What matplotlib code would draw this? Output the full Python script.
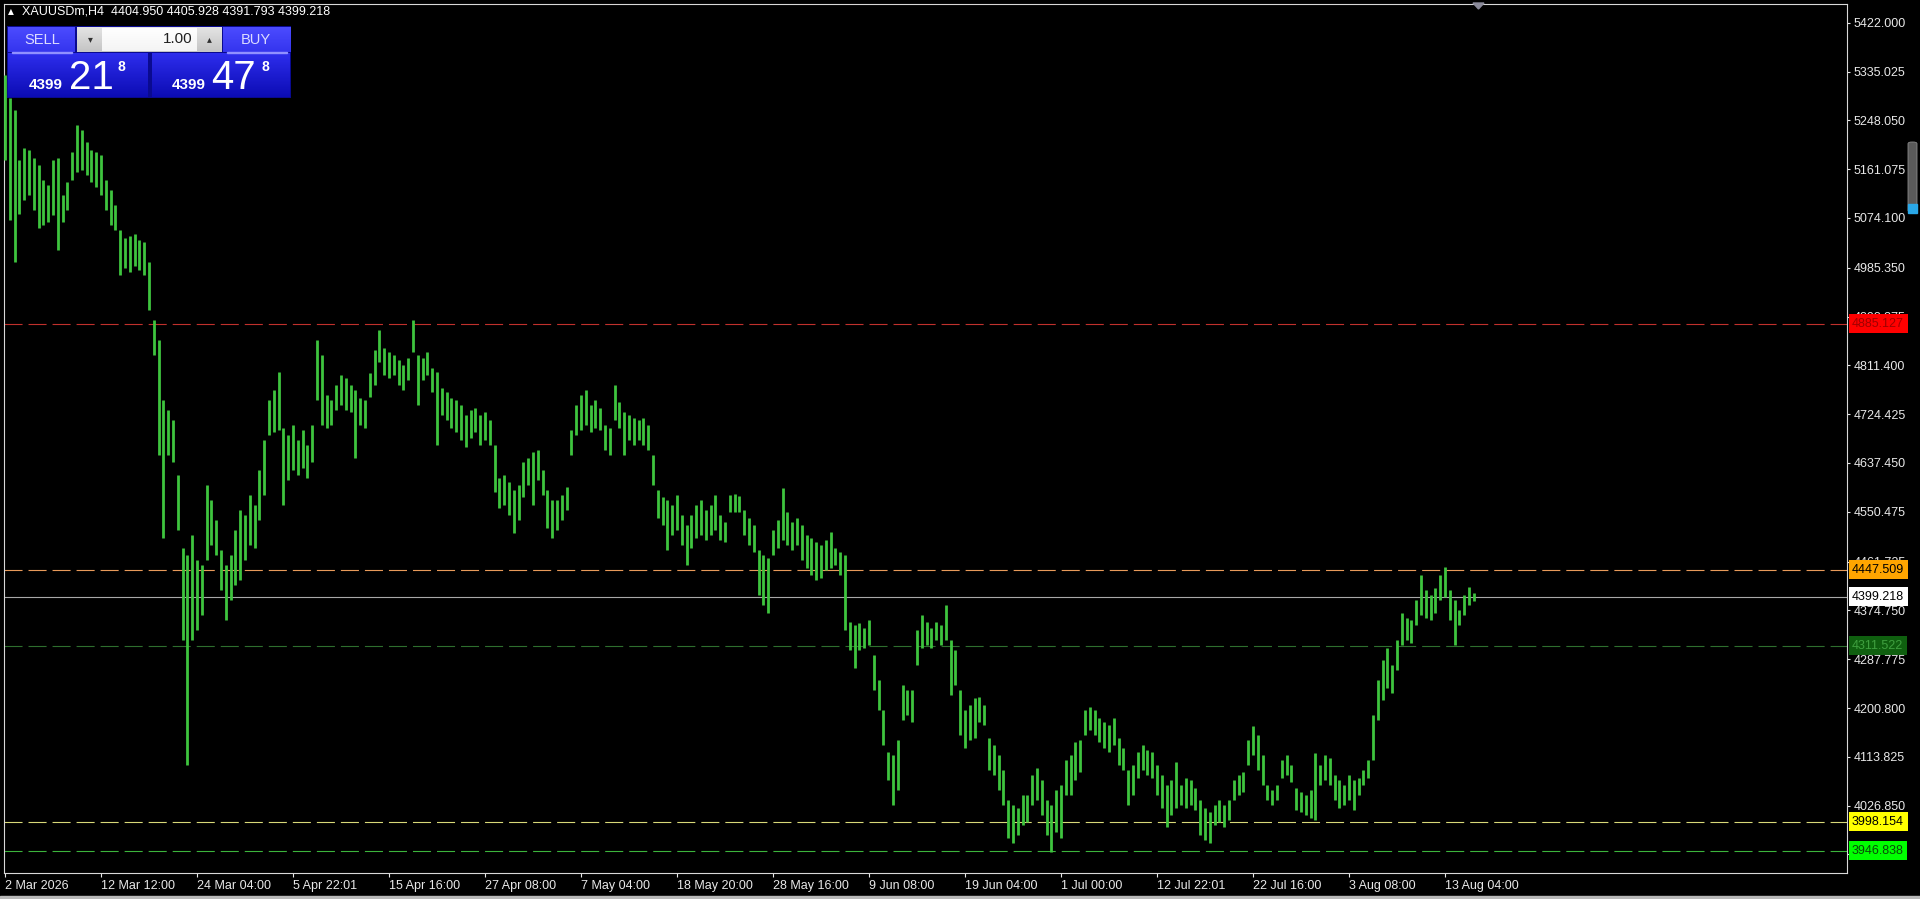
import numpy as np
import matplotlib
matplotlib.use('Agg')
import matplotlib.pyplot as plt
from matplotlib.patches import Rectangle, Polygon, FancyBboxPatch
from matplotlib.colors import LinearSegmentedColormap

plt.rcParams['font.family'] = ['Liberation Sans', 'DejaVu Sans']
plt.rcParams['lines.scale_dashes'] = False

# H4 bars, every bar = one high/low pair
bar_high = [
    5329, 5288, 5266, 5177, 5199, 5195, 5181, 5168, 5142, 5133,
    5177, 5181, 5115, 5138, 5191, 5240, 5231, 5209, 5195, 5191,
    5186, 5142, 5124, 5097, 5053, 5038, 5042, 5045, 5035, 5031,
    4996, 4892, 4857, 4750, 4732, 4714, 4616, 4486, 4473, 4509,
    4465, 4456, 4598, 4572, 4536, 4482, 4456, 4473, 4518, 4554,
    4545, 4580, 4563, 4625, 4678, 4750, 4768, 4800, 4700, 4688,
    4705, 4678, 4696, 4670, 4705, 4857, 4830, 4759, 4750, 4777,
    4794, 4789, 4777, 4768, 4753, 4750, 4798, 4839, 4874, 4842,
    4835, 4830, 4821, 4812, 4824, 4892, 4830, 4824, 4835, 4806,
    4800, 4771, 4764, 4753, 4750, 4741, 4723, 4732, 4736, 4723,
    4728, 4714, 4670, 4611, 4616, 4603, 4589, 4598, 4639, 4646,
    4657, 4661, 4625, 4589, 4572, 4572, 4580, 4594, 4696, 4741,
    4759, 4768, 4741, 4750, 4736, 4705, 4700, 4777, 4746, 4728,
    4723, 4718, 4714, 4718, 4705, 4652, 4589, 4576, 4572, 4563,
    4580, 4545, 4527, 4545, 4563, 4572, 4554, 4563, 4580, 4545,
    4532, 4580, 4582, 4579, 4554, 4540, 4527, 4482, 4473, 4468,
    4518, 4536, 4593, 4550, 4532, 4540, 4527, 4509, 4504, 4496,
    4491, 4500, 4514, 4486, 4479, 4473, 4354, 4349, 4352, 4343,
    4358, 4295, 4251, 4197, 4122, 4117, 4144, 4242, 4233, 4233,
    4340, 4366, 4354, 4343, 4354, 4349, 4384, 4322, 4304, 4233,
    4197, 4206, 4219, 4220, 4206, 4147, 4135, 4117, 4091, 4037,
    4028, 4023, 4046, 4046, 4082, 4094, 4073, 4037, 4028, 4055,
    4064, 4108, 4117, 4140, 4144, 4197, 4203, 4197, 4183, 4176,
    4171, 4183, 4147, 4130, 4091, 4099, 4122, 4135, 4126, 4122,
    4099, 4082, 4064, 4073, 4104, 4064, 4076, 4073, 4059, 4037,
    4023, 4015, 4028, 4037, 4028, 4037, 4073, 4082, 4087, 4144,
    4168, 4153, 4117, 4064, 4055, 4064, 4108, 4117, 4099, 4059,
    4051, 4046, 4055, 4121, 4099, 4117, 4112, 4082, 4073, 4064,
    4082, 4073, 4076, 4091, 4108, 4188, 4251, 4286, 4308, 4277,
    4322, 4370, 4361, 4358, 4393, 4438, 4411, 4402, 4415, 4438,
    4452, 4411, 4393, 4375, 4402, 4416, 4406,
]
bar_low = [
    5177, 5070, 4996, 5081, 5106, 5115, 5088, 5056, 5061, 5066,
    5079, 5017, 5066, 5088, 5142, 5156, 5159, 5150, 5138, 5129,
    5115, 5088, 5061, 5053, 4972, 4985, 4977, 4988, 4981, 4972,
    4910, 4830, 4652, 4504, 4652, 4639, 4518, 4322, 4099, 4322,
    4340, 4366, 4465, 4491, 4473, 4411, 4358, 4393, 4420, 4429,
    4465, 4491, 4486, 4536, 4580, 4688, 4693, 4696, 4563, 4607,
    4625, 4616, 4629, 4611, 4639, 4750, 4705, 4700, 4705, 4732,
    4741, 4732, 4728, 4646, 4705, 4700, 4755, 4777, 4817, 4794,
    4789, 4794, 4777, 4768, 4785, 4835, 4741, 4785, 4794, 4764,
    4670, 4723, 4714, 4700, 4693, 4678, 4666, 4682, 4693, 4670,
    4678, 4670, 4586, 4557, 4563, 4545, 4513, 4536, 4576, 4598,
    4563, 4607, 4580, 4522, 4504, 4518, 4536, 4554, 4652, 4688,
    4696, 4705, 4693, 4700, 4696, 4661, 4652, 4714, 4700, 4652,
    4678, 4670, 4678, 4670, 4661, 4598, 4540, 4527, 4482, 4509,
    4518, 4491, 4456, 4486, 4504, 4509, 4500, 4509, 4518, 4500,
    4496, 4550, 4550, 4550, 4509, 4491, 4479, 4402, 4384, 4371,
    4473, 4486, 4500, 4491, 4482, 4491, 4465, 4451, 4438, 4429,
    4433, 4447, 4451, 4456, 4438, 4340, 4304, 4272, 4304, 4307,
    4313, 4233, 4197, 4135, 4073, 4028, 4055, 4180, 4188, 4176,
    4277, 4307, 4313, 4307, 4322, 4313, 4322, 4224, 4242, 4153,
    4130, 4144, 4148, 4176, 4171, 4091, 4082, 4055, 4028, 3969,
    3960, 3975, 3992, 3997, 4028, 4037, 4010, 3975, 3944, 3980,
    3969, 4046, 4046, 4073, 4087, 4153, 4162, 4153, 4140, 4130,
    4122, 4135, 4099, 4091, 4028, 4046, 4076, 4091, 4082, 4076,
    4046, 4023, 3988, 4010, 4023, 4028, 4023, 4028, 4019, 3975,
    3966, 3960, 3992, 3997, 3988, 4001, 4037, 4046, 4051, 4099,
    4117, 4091, 4064, 4037, 4028, 4037, 4076, 4082, 4069, 4019,
    4015, 4010, 4005, 4001, 4064, 4073, 4064, 4037, 4023, 4028,
    4037, 4019, 4046, 4064, 4076, 4108, 4180, 4215, 4237, 4228,
    4269, 4313, 4322, 4316, 4349, 4366, 4361, 4358, 4370, 4393,
    4399, 4358, 4313, 4349, 4366, 4384, 4392,
]

date_labels = ['2 Mar 2026', '12 Mar 12:00', '24 Mar 04:00', '5 Apr 22:01', '15 Apr 16:00',
               '27 Apr 08:00', '7 May 04:00', '18 May 20:00', '28 May 16:00', '9 Jun 08:00',
               '19 Jun 04:00', '1 Jul 00:00', '12 Jul 22:01', '22 Jul 16:00', '3 Aug 08:00',
               '13 Aug 04:00']
date_pos = [0, 20, 40, 60, 80, 100, 120, 140, 160, 180, 200, 220, 240, 260, 280, 300]

price_ticks = [5422.000, 5335.025, 5248.050, 5161.075, 5074.100, 4985.350, 4898.375,
               4811.400, 4724.425, 4637.450, 4550.475, 4461.725, 4374.750, 4287.775,
               4200.800, 4113.825, 4026.850, 3939.875]

# horizontal levels: price, line colour, label bg, label text colour, dashed?
levels = [
    (4885.127, '#c0302c', '#ff0000', '#a00000', True),
    (4447.509, '#e89a5a', '#ffa500', '#000000', True),
    (4399.218, '#a8a8a8', '#ffffff', '#000000', False),
    (4311.522, '#2e6e2e', '#0f5f0f', '#3f9f3f', True),
    (3998.154, '#d8d878', '#ffff00', '#000000', True),
    (3946.838, '#3cb43c', '#00ff00', '#0a4a0a', True),
]

W, H = 1920, 899
fig = plt.figure(figsize=(W / 100, H / 100), dpi=100, facecolor='black')


def px_box(x0, y0, x1, y1):
    return [x0 / W, 1 - y1 / H, (x1 - x0) / W, (y1 - y0) / H]


ax = fig.add_axes(px_box(4, 4, 1847, 873))
ax.set_facecolor('black')
for s in ax.spines.values():
    s.set_color('#d8d8d8')
    s.set_linewidth(0.8)

x = np.arange(len(bar_high))
ax.vlines(x, bar_low, bar_high, color='#3ec43e', linewidth=2.0, zorder=3)

ax.set_xlim(-0.21, 383.75)
ax.set_ylim(3906.9, 5455.3)

for p, lc, bg, tc, dashed in levels:
    if dashed:
        ax.axhline(p, color=lc, linewidth=0.8, dashes=(13, 4.3), zorder=2)
    else:
        ax.axhline(p, color=lc, linewidth=0.8, zorder=2)

ax.yaxis.tick_right()
ax.set_yticks(price_ticks)
ax.set_yticklabels(['%.3f' % v for v in price_ticks])
ax.tick_params(axis='y', colors='#e8e8e8', length=2.5, width=0.8, pad=2, labelsize=9)

ax.set_xticks(date_pos)
ax.set_xticklabels(date_labels, ha='left')
ax.tick_params(axis='x', colors='#e8e8e8', length=3, width=0.8, pad=2, labelsize=9)

for p, lc, bg, tc, dashed in levels:
    ax.annotate('%.3f' % p, xy=(1, p), xycoords=('axes fraction', 'data'),
                xytext=(5, 0), textcoords='offset pixels', ha='left', va='center',
                fontsize=9, color=tc, annotation_clip=False, zorder=10,
                bbox=dict(boxstyle='square,pad=0.28', fc=bg, ec='none'))

# header
fig.text(8 / W, 1 - 12 / H, '\u25b2', color='white', fontsize=5.5, va='center',
         family='DejaVu Sans')
fig.text(22 / W, 1 - 12 / H, 'XAUUSDm,H4  4404.950 4405.928 4391.793 4399.218',
         color='white', fontsize=9, va='center')

# one-click trading panel
grad = np.linspace(0, 1, 64).reshape(-1, 1)


def grad_box(x0, y0, x1, y1, c_top, c_bot):
    a = fig.add_axes(px_box(x0, y0, x1, y1))
    cm = LinearSegmentedColormap.from_list('g', [c_top, c_bot])
    a.imshow(grad, aspect='auto', cmap=cm, extent=[0, 1, 0, 1])
    a.axis('off')
    return a


grad_box(7, 26, 291, 98, '#0a0a90', '#0a0a90')
grad_box(8, 27, 75, 52, '#4c4cff', '#3434ee')
grad_box(223, 27, 290, 52, '#4c4cff', '#3434ee')
grad_box(77, 27, 222, 52, '#e4e4e4', '#c4c4c4')
grad_box(102, 28, 197, 51, '#ffffff', '#f4f4f4')
grad_box(8, 53, 148, 97, '#2e2eee', '#0c0cb4')
grad_box(152, 53, 290, 97, '#2e2eee', '#0c0cb4')
fig.patches.append(Rectangle((12 / W, 1 - 53 / H), 60 / W, 1 / H,
                             transform=fig.transFigure, color='#9090ff', zorder=2))
fig.patches.append(Rectangle((227 / W, 1 - 53 / H), 60 / W, 1 / H,
                             transform=fig.transFigure, color='#9090ff', zorder=2))

fig.text(42 / W, 1 - 40 / H, 'SELL', color='#dcdcff', fontsize=10.5, ha='center', va='center')
fig.text(256 / W, 1 - 40 / H, 'BUY', color='#dcdcff', fontsize=10.5, ha='center', va='center')
fig.text(193 / W, 1 - 39 / H, '1.00', color='#202020', fontsize=11, ha='right', va='center')
fig.text(90 / W, 1 - 39 / H, '\u25be', color='#303030', fontsize=7, ha='center', va='center',
         family='DejaVu Sans')
fig.text(209 / W, 1 - 39 / H, '\u25b4', color='#303030', fontsize=7, ha='center', va='center',
         family='DejaVu Sans')

fig.text(29 / W, 1 - 89 / H, '4399', color='white', fontsize=11, fontweight='bold', va='baseline')
fig.text(69 / W, 1 - 89 / H, '21', color='white', fontsize=29, va='baseline')
fig.text(118 / W, 1 - 71 / H, '8', color='white', fontsize=10, fontweight='bold', va='baseline')
fig.text(172 / W, 1 - 89 / H, '4399', color='white', fontsize=11, fontweight='bold', va='baseline')
fig.text(211 / W, 1 - 89 / H, '47', color='white', fontsize=29, va='baseline')
fig.text(261 / W, 1 - 71 / H, '8', color='white', fontsize=10, fontweight='bold', va='baseline')

# chart shift marker and scrollbar
fig.patches.append(Polygon([(1473 / W, 1 - 3 / H), (1484 / W, 1 - 3 / H), (1478.5 / W, 1 - 9 / H)],
                           closed=True, transform=fig.transFigure, color='#8a8a9a'))
fig.patches.append(FancyBboxPatch((1908 / W, 1 - 212 / H), 9 / W, 70 / H,
                                  boxstyle='round,pad=0,rounding_size=0.002',
                                  transform=fig.transFigure, fc='#5a5a5a', ec='#8a8a8a', lw=0.6))
fig.patches.append(Rectangle((1908 / W, 1 - 213 / H), 9 / W, 9 / H,
                             transform=fig.transFigure, color='#2aa8e8'))
fig.patches.append(Rectangle((0, 0), 1, 3 / H, transform=fig.transFigure, color='#b8b8b8'))

fig.savefig('out.png', dpi=100, facecolor='black')
